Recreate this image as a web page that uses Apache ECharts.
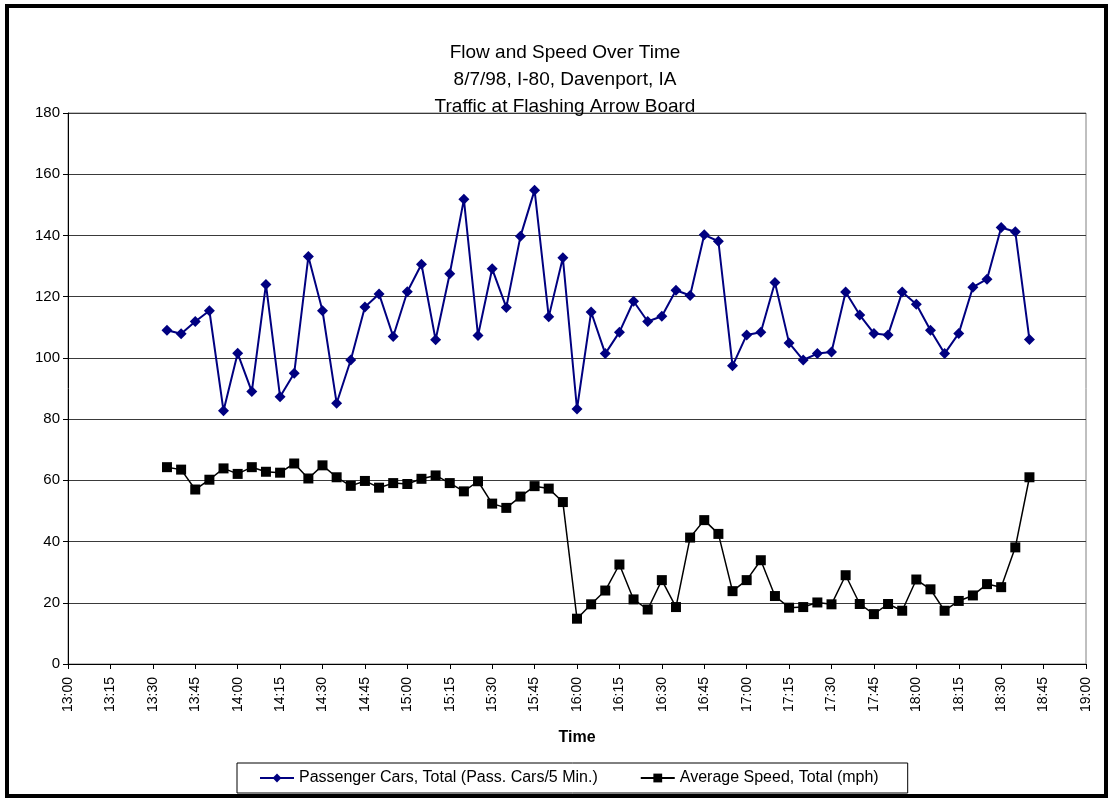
<!DOCTYPE html>
<html>
<head>
<meta charset="utf-8">
<title>Flow and Speed Over Time</title>
<script src="https://cdn.jsdelivr.net/npm/echarts@6/dist/echarts.min.js"></script>
<style>
  html, body { margin: 0; padding: 0; background: #fff; }
  #chart { width: 1108px; height: 799px; }
</style>
</head>
<body>
<div id="chart"></div>
<script>
// Sample times (5-minute intervals)
const times = [
  '13:35','13:40','13:45','13:50','13:55',
  '14:00','14:05','14:10','14:15','14:20','14:25','14:30','14:35','14:40','14:45','14:50','14:55',
  '15:00','15:05','15:10','15:15','15:20','15:25','15:30','15:35','15:40','15:45','15:50','15:55',
  '16:00','16:05','16:10','16:15','16:20','16:25','16:30','16:35','16:40','16:45','16:50','16:55',
  '17:00','17:05','17:10','17:15','17:20','17:25','17:30','17:35','17:40','17:45','17:50','17:55',
  '18:00','18:05','18:10','18:15','18:20','18:25','18:30','18:35','18:40'
];

// Passenger cars per 5 minutes
const passengerCars = [
  109.0,107.9,111.9,115.4,82.7,101.5,89.0,124.0,87.3,95.0,
  133.1,115.4,85.2,99.3,116.6,120.9,107.0,121.6,130.6,105.9,
  127.5,151.8,107.3,129.1,116.5,139.7,154.8,113.4,132.7,83.3,
  115.0,101.4,108.4,118.5,111.9,113.6,122.1,120.4,140.2,138.1,
  97.4,107.5,108.4,124.6,104.9,99.3,101.4,101.9,121.5,114.0,
  108.0,107.5,121.5,117.5,109.0,101.4,108.0,123.1,125.7,142.6,
  141.2,106.0
];

// Average speed (mph)
const averageSpeed = [
  64.3,63.5,57.0,60.2,63.9,62.1,64.3,62.8,62.5,65.5,
  60.6,64.9,61.0,58.2,59.8,57.6,59.1,58.8,60.5,61.6,
  59.1,56.4,59.7,52.4,51.0,54.7,58.1,57.3,52.9,14.8,
  19.5,24.0,32.5,21.1,17.8,27.4,18.6,41.3,47.0,42.5,
  23.8,27.4,33.9,22.2,18.4,18.6,20.1,19.5,29.0,19.6,
  16.3,19.6,17.4,27.6,24.4,17.4,20.6,22.4,26.1,25.1,
  38.1,61.0
];

const titleLines = ['Flow and Speed Over Time', '8/7/98, I-80, Davenport, IA', 'Traffic at Flashing Arrow Board'];
const seriesNames = ['Passenger Cars, Total (Pass. Cars/5 Min.)', 'Average Speed, Total (mph)'];

const toMinutes = t => { const p = t.split(':'); return (+p[0]) * 60 + (+p[1]); };
const fmtTime = v => Math.floor(v / 60) + ':' + String(v % 60).padStart(2, '0');

const FONT = '"Liberation Sans", Arial, Helvetica, sans-serif';

const chart = echarts.init(document.getElementById('chart'), null, { renderer: 'canvas' });

chart.setOption({
  animation: false,
  backgroundColor: '#fff',
  textStyle: { fontFamily: FONT, color: '#000' },
  title: {
    text: titleLines.join('\n'),
    left: 565,
    top: 39,
    textAlign: 'center',
    padding: 0,
    textStyle: { fontFamily: FONT, fontSize: 19, fontWeight: 'normal', color: '#000', lineHeight: 27 }
  },
  graphic: [{
    type: 'rect',
    shape: { x: 7, y: 6, width: 1099, height: 790 },
    style: { fill: 'none', stroke: '#000', lineWidth: 4 },
    silent: true,
    z: 100
  }],
  legend: {
    left: 237,
    top: 763,
    padding: [7, 29, 7, 22],
    itemGap: 42,
    itemWidth: 34,
    itemHeight: 11,
    borderColor: '#000',
    borderWidth: 1,
    textStyle: { fontFamily: FONT, fontSize: 16, color: '#000' },
    data: seriesNames
  },
  grid: {
    left: 68, right: 22, top: 113, bottom: 135,
    show: true, borderColor: '#808080', borderWidth: 1,
    containLabel: false
  },
  xAxis: {
    type: 'value',
    min: 780, max: 1140, interval: 15,
    name: 'Time',
    nameLocation: 'middle',
    nameGap: 66,
    nameTextStyle: { fontFamily: FONT, fontSize: 16, fontWeight: 'bold', color: '#000' },
    axisLine: { show: true, onZero: false, lineStyle: { color: '#000', width: 1 } },
    axisTick: { show: true, inside: false, length: 5, lineStyle: { color: '#000' } },
    axisLabel: { rotate: 90, margin: 13, fontSize: 14, color: '#000', fontFamily: FONT, formatter: fmtTime },
    splitLine: { show: false }
  },
  yAxis: {
    type: 'value',
    min: 0, max: 180, interval: 20,
    axisLine: { show: true, lineStyle: { color: '#000', width: 1 } },
    axisTick: { show: true, inside: false, length: 5, lineStyle: { color: '#000' } },
    axisLabel: { margin: 8, fontSize: 15, color: '#000', fontFamily: FONT },
    splitLine: { show: true, lineStyle: { color: '#3a3a3a', width: 1 } }
  },
  series: [
    {
      name: seriesNames[0],
      type: 'line',
      data: times.map((t, i) => [toMinutes(t), passengerCars[i]]),
      symbol: 'diamond',
      symbolSize: 11,
      itemStyle: { color: '#000080' },
      lineStyle: { color: '#000080', width: 2 },
      z: 3
    },
    {
      name: seriesNames[1],
      type: 'line',
      data: times.map((t, i) => [toMinutes(t), averageSpeed[i]]),
      symbol: 'rect',
      symbolSize: 10,
      itemStyle: { color: '#000' },
      lineStyle: { color: '#000', width: 1.5 },
      z: 2
    }
  ]
});
</script>
</body>
</html>
